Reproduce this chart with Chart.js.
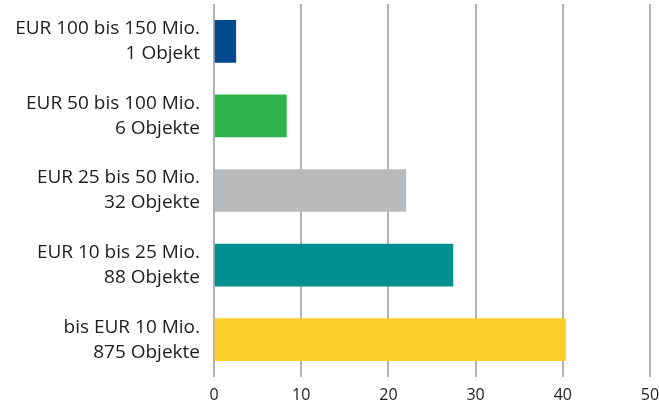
<!DOCTYPE html>
<html>
<head>
<meta charset="utf-8">
<script src="https://cdn.jsdelivr.net/npm/chart.js@4"></script>
<style>
  html, body { margin: 0; padding: 0; background: #fff; }
  #wrap { width: 659px; height: 405px; }
</style>
</head>
<body>
<div id="wrap"><canvas id="chart"></canvas></div>
<script>
// data
const categories = [
    ['EUR 100 bis 150 Mio.', '1 Objekt'],
    ['EUR 50 bis 100 Mio.', '6 Objekte'],
    ['EUR 25 bis 50 Mio.', '32 Objekte'],
    ['EUR 10 bis 25 Mio.', '88 Objekte'],
    ['bis EUR 10 Mio.', '875 Objekte']
];
const values = [2.5, 8.3, 22.0, 27.4, 40.3];
const barColors = ['#034a8e', '#2fb34b', '#b9babc', '#038f8e', '#fccf2d'];
const xTicks = [0, 10, 20, 30, 40, 50];

const fontFamily = "'Open Sans', 'Noto Sans', sans-serif";
const labelFont = { family: fontFamily, size: 19, lineHeight: 1.32 };
const tickFont = { family: fontFamily, size: 16, lineHeight: 1.32 };

const config = {
    type: 'bar',
    data: {
        labels: categories,
        datasets: [{
            data: values,
            backgroundColor: barColors,
            borderWidth: 0,
            barThickness: 42
        }]
    },
    options: {
        indexAxis: 'y',
        responsive: true,
        maintainAspectRatio: false,
        animation: false,
        layout: { padding: { top: 4, right: 9, left: 0, bottom: 0 } },
        scales: {
            x: {
                min: xTicks[0],
                max: xTicks[xTicks.length - 1],
                afterBuildTicks: (scale) => { scale.ticks = xTicks.map(v => ({ value: v })); },
                afterFit: (scale) => {
                    scale.height = 28;
                    scale.paddingLeft = 0;
                    scale.paddingRight = 0;
                },
                grid: { color: '#b3b3b3', lineWidth: 2, drawTicks: false },
                border: { display: false },
                ticks: { color: '#1d1d1b', font: tickFont, padding: 8 }
            },
            y: {
                afterFit: (scale) => {
                    scale.width = 214;
                    scale.paddingTop = 0;
                    scale.paddingBottom = 0;
                },
                grid: { display: false, drawTicks: false },
                border: { display: false },
                ticks: { color: '#1d1d1b', font: labelFont, padding: 14 }
            }
        },
        plugins: {
            legend: { display: false },
            tooltip: { enabled: false }
        }
    }
};

new Chart(document.getElementById('chart').getContext('2d'), config);
</script>
</body>
</html>
